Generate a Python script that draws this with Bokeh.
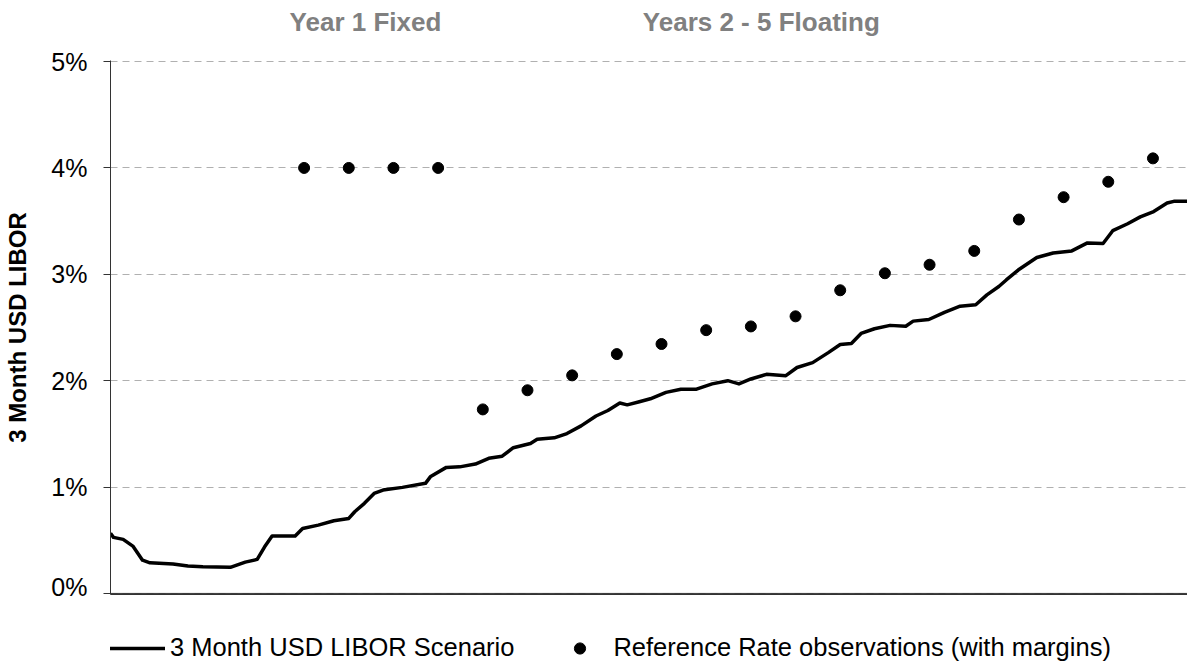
from bokeh.plotting import figure
from bokeh.layouts import column
from bokeh.models import Range1d, Legend, LegendItem, FixedTicker, Span
from bokeh.core.properties import value
from bokeh.embed import file_html
from bokeh.resources import INLINE

# ---- data ----
obs_month = [3, 6, 9, 12, 15, 18, 21, 24, 27, 30, 33, 36, 39, 42, 45, 48, 51, 54, 57, 60]
obs_rate = [4.00, 4.00, 4.00, 4.00, 1.73, 1.91, 2.05, 2.25, 2.345, 2.475,
            2.51, 2.605, 2.85, 3.01, 3.09, 3.22, 3.515, 3.725, 3.87, 4.09]

libor_month = [-10.0, -9.8, -9.15, -8.5, -7.85, -7.35, -5.8, -4.8, -3.8, -1.95,
               -0.95, -0.15, 0.35, 0.85, 2.4, 2.9, 3.95, 5.0, 6.0, 6.4,
               7.05, 7.7, 8.3, 9.6, 11.15, 11.5, 12.55, 13.45, 14.5, 15.4,
               16.3, 17.05, 18.2, 18.65, 19.8, 20.65, 21.6, 22.6, 23.4, 24.2,
               24.7, 25.45, 26.25, 27.3, 28.3, 29.35, 30.4, 31.45, 32.2, 33.0,
               34.05, 35.35, 36.1, 37.15, 38.2, 39.0, 39.75, 40.4, 41.3, 42.35,
               43.4, 43.9, 44.95, 46.0, 47.05, 48.1, 48.85, 49.65, 50.15, 50.95,
               52.2, 53.3, 54.55, 55.6, 56.65, 57.3, 58.3, 59.15, 60.05, 60.95,
               61.4, 62.35]
libor_rate = [0.565, 0.527, 0.508, 0.445, 0.313, 0.288, 0.276, 0.257, 0.25, 0.245,
              0.294, 0.32, 0.438, 0.539, 0.539, 0.61, 0.642, 0.683, 0.705, 0.768,
              0.847, 0.94, 0.972, 0.997, 1.035, 1.10, 1.185, 1.19, 1.216, 1.27,
              1.29, 1.37, 1.41, 1.45, 1.463, 1.503, 1.575, 1.668, 1.72, 1.79,
              1.773, 1.80, 1.83, 1.89, 1.92, 1.92, 1.97, 2.00, 1.97, 2.016,
              2.06, 2.047, 2.124, 2.17, 2.264, 2.34, 2.35, 2.444, 2.488, 2.52,
              2.512, 2.56, 2.575, 2.643, 2.70, 2.714, 2.807, 2.885, 2.947, 3.04,
              3.158, 3.20, 3.22, 3.295, 3.29, 3.41, 3.475, 3.54, 3.59, 3.67,
              3.686, 3.686]

y_ticks = [0, 1, 2, 3, 4, 5]
y_tick_labels = ["0%", "1%", "2%", "3%", "4%", "5%"]

period_labels = ["Year 1 Fixed", "Years 2 - 5 Floating"]
series_names = ["3 Month USD LIBOR Scenario", "Reference Rate observations (with margins)"]
y_title = "3 Month USD LIBOR"

FONT = "Liberation Sans"
W = 1187
TOP_H = 40
MAIN_H = 560
BOT_H = 62

x_range = Range1d(-10, 62.32)

line_style = dict(line_color="black", line_width=3.5, line_join="round")
dot_style = dict(size=11, fill_color="black", line_color="black")

# ---- header strip with the period labels ----
top = figure(width=W, height=TOP_H, x_range=x_range, y_range=Range1d(0, TOP_H),
             output_backend="svg", toolbar_location=None,
             x_axis_location=None, y_axis_location=None,
             min_border_left=110, min_border_right=0,
             min_border_top=0, min_border_bottom=0)
top.outline_line_color = None
top.grid.visible = False
top.text(x=[7.12, 33.7], y=[TOP_H - 21, TOP_H - 21], text=period_labels,
         text_align="center", text_baseline="middle",
         text_font=value(FONT), text_font_size="26px",
         text_font_style="bold", text_color="#808080")

# ---- main chart ----
p = figure(width=W, height=MAIN_H,
           x_range=x_range, y_range=Range1d(-0.01, 5.01),
           output_backend="svg", toolbar_location=None,
           min_border_left=110, min_border_right=0,
           min_border_top=20, min_border_bottom=6)
p.outline_line_color = None

p.xgrid.visible = False
p.ygrid.ticker = FixedTicker(ticks=y_ticks)
p.ygrid.grid_line_color = "#b0b0b0"
p.ygrid.grid_line_dash = "7 5"
p.ygrid.grid_line_width = 1

xa = p.xaxis[0]
xa.axis_line_color = "#333333"
xa.axis_line_width = 1
xa.major_tick_line_color = None
xa.minor_tick_line_color = None
xa.major_tick_out = 0
xa.major_tick_in = 0
xa.major_label_text_color = None
xa.major_label_text_font_size = "1px"
xa.major_label_standoff = 0

# baseline at 0%
p.add_layout(Span(location=0, dimension="width", line_color="#333333", line_width=1))

ya = p.yaxis[0]
ya.ticker = FixedTicker(ticks=y_ticks)
ya.major_label_overrides = {t: l for t, l in zip(y_ticks, y_tick_labels)}
ya.axis_line_color = "#333333"
ya.axis_line_width = 1
ya.major_tick_line_color = "#333333"
ya.major_tick_out = 7
ya.major_tick_in = 0
ya.minor_tick_line_color = None
ya.major_label_standoff = 16
ya.major_label_text_font = FONT
ya.major_label_text_font_size = "25px"
ya.major_label_text_color = "black"
ya.axis_label = y_title
ya.axis_label_text_font = FONT
ya.axis_label_text_font_size = "24px"
ya.axis_label_text_font_style = "bold"
ya.axis_label_text_color = "black"
ya.axis_label_standoff = 17

p.line(libor_month, libor_rate, **line_style)
p.scatter(obs_month, obs_rate, **dot_style)

# ---- legend strip (same series, drawn out of view; only the key shows) ----
bot = figure(width=W, height=BOT_H, x_range=Range1d(0, 1), y_range=Range1d(10, 11),
             output_backend="svg", toolbar_location=None,
             x_axis_location=None, y_axis_location=None,
             min_border_left=100, min_border_right=0,
             min_border_top=0, min_border_bottom=0)
bot.outline_line_color = None
bot.grid.visible = False
key_line = bot.line(libor_month, libor_rate, **line_style)
key_dot = bot.scatter(obs_month, obs_rate, **dot_style)
legend = Legend(items=[LegendItem(label=series_names[0], renderers=[key_line]),
                       LegendItem(label=series_names[1], renderers=[key_dot])],
                location=(-2, 0), orientation="horizontal",
                padding=0, margin=0, spacing=37,
                glyph_width=57, glyph_height=28, label_height=28,
                label_standoff=5,
                label_text_font=FONT, label_text_font_size="25.5px",
                label_text_color="black",
                border_line_color=None, background_fill_alpha=0)
bot.add_layout(legend)

layout = column(top, p, bot, spacing=0)
open("out.html", "w").write(file_html(layout, INLINE))
